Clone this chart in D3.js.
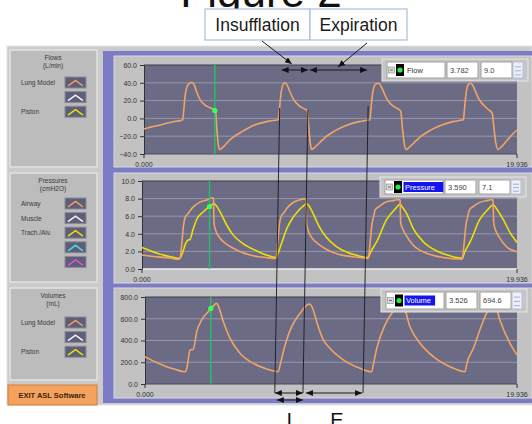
<!DOCTYPE html>
<html>
<head>
<meta charset="utf-8">
<script src="https://cdn.jsdelivr.net/npm/d3@7"></script>
<style>
body { margin: 0; background: #fff; }
svg { display: block; font-family: "Liberation Sans", Arial, sans-serif; }
</style>
</head>
<body>
<script>
// ---- data ----
var timeMax = 19.936;

// Flows (L/min), lung model
var flowT = [0, 0.4, 0.84, 1.2, 1.57, 2.01, 2.07, 2.12, 2.18, 2.26, 2.4, 2.55, 2.68, 2.81, 3.03, 3.26, 3.53, 3.78, 3.83, 3.88, 3.95, 4.03, 4.24, 4.5, 4.77, 5.31, 5.84, 6.56, 7.09,
  7.18, 7.23, 7.29, 7.36, 7.45, 7.54, 7.66, 7.8, 8.0, 8.25, 8.5, 8.69, 8.74, 8.8, 8.88, 8.96, 9.15, 9.4, 9.7, 10.2, 10.8, 11.5, 12.0,
  12.07, 12.12, 12.18, 12.26, 12.38, 12.53, 12.65, 12.8, 13.0, 13.25, 13.5, 13.68, 13.73, 13.8, 13.9, 14.0, 14.2, 14.45, 14.75, 15.25, 15.85, 16.5, 17.0,
  17.07, 17.12, 17.18, 17.25, 17.35, 17.45, 17.58, 17.72, 17.92, 18.15, 18.4, 18.55, 18.62, 18.7, 18.8, 18.92, 19.1, 19.35, 19.6, 19.936];
var flowV = [-12, -9.5, -7.6, -5.5, -3.8, -2, -1.5, 8, 22, 33, 39, 40.5, 38, 30, 20, 15, 12, 9, 7, -8, -26, -35, -32, -26, -21, -14, -8, -3.6, -1.8,
  -1.5, 8, 22, 33, 39, 40, 37, 30, 21, 15, 11.5, 9.5, 7, -8, -27, -35, -32, -27, -21, -14, -8, -3.6, -1.8,
  -1.5, 8, 22, 33, 38.5, 39.5, 37, 30, 21, 15, 11.5, 9, 7, -8, -27, -35, -32, -27, -21, -14, -8, -3.6, -1.8,
  -1.5, 8, 22, 33, 38.5, 39.5, 37, 30, 21, 15, 10, 7.5, 5, -10, -27, -35, -32, -26, -20, -13];

// Pressures (cmH2O): airway and trach./alv.
var airT = [0, 0.5, 1.0, 1.5, 1.93, 2.02, 2.1, 2.2, 2.3, 2.45, 2.55, 2.7, 3.08, 3.4, 3.76, 3.8, 3.83, 3.9, 4.15, 4.5, 4.85, 5.3, 5.74, 6.2, 6.63, 7.07,
  7.12, 7.2, 7.3, 7.4, 7.55, 7.7, 8.0, 8.3, 8.67, 8.72, 8.75, 8.83, 9.05, 9.4, 9.75, 10.2, 10.7, 11.2, 11.6, 12.0,
  12.03, 12.12, 12.22, 12.32, 12.39, 12.6, 13.0, 13.4, 13.68, 13.72, 13.75, 13.85, 13.98, 14.42, 15.13, 16.02, 17.0,
  17.03, 17.12, 17.22, 17.32, 17.4, 17.6, 18.0, 18.4, 18.62, 18.66, 18.7, 18.8, 19.0, 19.39, 19.936];
var airV = [1.6, 1.45, 1.35, 1.25, 1.1, 1.2, 2.5, 4.8, 5.9, 6.3, 6.6, 7.0, 7.6, 7.8, 8.1, 8.0, 5.2, 4.5, 3.5, 2.8, 2.35, 1.9, 1.6, 1.4, 1.3, 1.2,
  1.25, 2.8, 5.0, 6.0, 6.4, 6.9, 7.5, 7.8, 8.0, 7.9, 5.2, 4.4, 3.5, 2.8, 2.3, 1.85, 1.55, 1.4, 1.3, 1.2,
  1.2, 2.8, 5.0, 6.0, 6.7, 7.1, 7.65, 7.8, 7.9, 7.8, 5.3, 4.6, 4.05, 2.7, 1.8, 1.3, 1.1,
  1.15, 2.8, 5.0, 6.0, 6.7, 7.1, 7.6, 7.8, 7.9, 7.8, 5.2, 4.4, 3.6, 2.5, 1.95];
var trachT = [0, 0.4, 0.8, 1.2, 1.6, 1.93, 2.02, 2.15, 2.3, 2.37, 2.45, 2.55, 2.7, 2.9, 3.26, 3.61, 3.83, 3.95, 4.15, 4.5, 4.85, 5.39, 6.1, 6.6, 6.98,
  7.12, 7.25, 7.45, 7.7, 7.95, 8.3, 8.6, 8.75, 8.9, 9.1, 9.4, 9.8, 10.3, 10.9, 11.5,
  12.03, 12.15, 12.48, 13.0, 13.45, 13.72, 13.85, 14.07, 14.42, 14.95, 15.67, 16.3, 16.73,
  17.03, 17.15, 17.45, 17.95, 18.4, 18.68, 18.8, 19.21, 19.55, 19.936];
var trachV = [2.45, 2.1, 1.8, 1.55, 1.35, 1.2, 1.25, 1.8, 2.8, 3.1, 3.3, 3.35, 4.4, 5.6, 6.5, 7.15, 7.45, 7.2, 6.5, 5.0, 3.85, 2.85, 2.05, 1.6, 1.35,
  1.3, 1.9, 3.1, 4.6, 5.6, 6.6, 7.2, 7.45, 7.1, 6.3, 4.9, 3.6, 2.6, 1.9, 1.5,
  1.3, 1.9, 3.1, 5.6, 6.8, 7.35, 7.0, 6.3, 4.6, 3.1, 2.05, 1.55, 1.3,
  1.25, 1.9, 3.1, 5.6, 6.8, 7.3, 7.0, 5.6, 4.2, 3.0];

// Volumes (mL), lung model
var volT = [0, 0.4, 0.8, 1.16, 1.6, 2.14, 2.25, 2.41, 2.59, 2.77, 3.04, 3.39, 3.57, 3.84, 3.92, 4.2, 4.56, 5.09, 5.8, 6.52, 7.14,
  7.25, 7.41, 7.6, 7.86, 8.31, 8.8, 9.0, 9.2, 9.56, 9.91, 10.63, 11.52, 12.15,
  12.25, 12.42, 12.86, 13.22, 13.75, 13.85, 14.2, 14.74, 15.45, 16.34, 17.15,
  17.25, 17.6, 18.04, 18.3, 18.7, 18.8, 19.02, 19.56, 19.936];
var volV = [250, 215, 185, 159, 135, 113, 150, 313, 320, 481, 589, 665, 696, 742, 720, 573, 420, 282, 190, 138, 113,
  180, 297, 410, 527, 650, 735, 690, 573, 405, 328, 221, 144, 113,
  190, 328, 542, 650, 740, 720, 527, 374, 251, 159, 113,
  190, 328, 542, 650, 735, 710, 589, 374, 267];

var flowTicks = [-40, -20, 0, 20, 40, 60];
var pressTicks = [0, 2, 4, 6, 8, 10];
var volTicks = [0, 200, 400, 600, 800];
var xTickLabels = ["0.000", "19.936"];

var cursorX = ["3.782", "3.590", "3.526"];
var cursorY = ["9.0", "7.1", "694.6"];

var orange = "#f2a466", yellow = "#ece100";

// ---- page ----
var svg = d3.select("body").append("svg")
    .attr("width", 532)
    .attr("height", 424);

svg.append("defs").append("marker")
    .attr("id", "ah")
    .attr("markerUnits", "userSpaceOnUse")
    .attr("markerWidth", 7).attr("markerHeight", 6)
    .attr("refX", 7).attr("refY", 3)
    .attr("orient", "auto-start-reverse")
    .append("path").attr("d", "M0,0 L7,3 L0,6 Z").attr("fill", "#111");

// outer frame + left side
svg.append("rect").attr("x", 7).attr("y", 46).attr("width", 525).attr("height", 359)
    .attr("fill", "#cbcbcb").attr("stroke", "#e4e4e4");
svg.append("rect").attr("x", 103).attr("y", 51).attr("width", 429).attr("height", 352)
    .attr("fill", "#7c7cc6");

var legends = [
    {y: 50, h: 117, title: ["Flows", "(L/min)"], items: [["Lung Model", orange], ["", "#f4f4f4"], ["Piston", yellow]], sy: 77},
    {y: 173, h: 109, title: ["Pressures", "(cmH2O)"], items: [["Airway", orange], ["Muscle", "#f4f4f4"], ["Trach./Alv.", yellow], ["", "#3fe0e0"], ["", "#e050e0"]], sy: 198},
    {y: 288, h: 92, title: ["Volumes", "(mL)"], items: [["Lung Model", orange], ["", "#f4f4f4"], ["Piston", yellow]], sy: 317}
];
legends.forEach(function(L) {
    var g = svg.append("g");
    g.append("rect").attr("x", 10).attr("y", L.y).attr("width", 87).attr("height", L.h)
        .attr("fill", "#bcbcbc").attr("stroke", "#e2e2e2").attr("stroke-width", 1.5);
    g.selectAll("text.t").data(L.title).enter().append("text")
        .attr("x", 53).attr("y", function(d, i) { return L.y + 10 + i * 8; })
        .attr("text-anchor", "middle").attr("font-size", 6.5).attr("fill", "#3a3a3a")
        .text(function(d) { return d; });
    var it = g.selectAll("g.it").data(L.items).enter().append("g")
        .attr("transform", function(d, i) { return "translate(0," + (L.sy + i * 14.6) + ")"; });
    it.append("text").attr("x", 21).attr("y", 8).attr("font-size", 6.5).attr("fill", "#3a3a3a")
        .text(function(d) { return d[0]; });
    it.append("rect").attr("x", 65).attr("y", 0).attr("width", 21).attr("height", 11)
        .attr("fill", "#5e5e78").attr("stroke", "#8a8a9a");
    it.append("polyline").attr("points", "68,9 75.5,3.5 83,9")
        .attr("fill", "none").attr("stroke", function(d) { return d[1]; }).attr("stroke-width", 1.5);
});

svg.append("rect").attr("x", 8).attr("y", 385).attr("width", 89).attr("height", 20)
    .attr("fill", "#f5a25c").attr("stroke", "#d27c36");
svg.append("text").attr("x", 52).attr("y", 398).attr("text-anchor", "middle")
    .attr("font-size", 7.5).attr("font-weight", "bold").attr("fill", "#3b2412")
    .text("EXIT ASL Software");

// ---- the three graphs ----
var charts = [
    {py: 56, ph: 111, left: 144, top: 65, bottom: 154, domain: [-40, 60], ticks: flowTicks, name: "Flow", hl: false,
     box: [382, 59, 22], series: [[flowT, flowV, orange]], cur: 0},
    {py: 173, ph: 110, left: 142, top: 181, bottom: 269, domain: [0, 10], ticks: pressTicks, name: "Pressure", hl: true,
     box: [380, 177, 20], series: [[airT, airV, orange], [trachT, trachV, yellow]], cur: 1},
    {py: 288, ph: 110, left: 145, top: 297, bottom: 384, domain: [0, 800], ticks: volTicks, name: "Volume", hl: true,
     box: [381, 289, 23], series: [[volT, volV, orange]], cur: 0}
];
var plotRight = 517;
var scalesX = [];

charts.forEach(function(c, ci) {
    var x = d3.scaleLinear().domain([0, timeMax]).range([c.left, plotRight]);
    var y = d3.scaleLinear().domain(c.domain).range([c.bottom, c.top]);
    scalesX.push(x);
    var g = svg.append("g");

    g.append("rect").attr("x", 114).attr("y", c.py).attr("width", 418).attr("height", c.ph)
        .attr("fill", "#c2c2c2").attr("stroke", "#dadada");
    g.append("rect").attr("x", c.left).attr("y", c.top).attr("width", plotRight - c.left).attr("height", c.bottom - c.top)
        .attr("fill", "#6b6b85");

    // grid
    g.selectAll("line.grid").data(c.ticks.slice(1, -1)).enter().append("line")
        .attr("x1", c.left).attr("x2", plotRight)
        .attr("y1", function(d) { return y(d); }).attr("y2", function(d) { return y(d); })
        .attr("stroke", "#9c9cae").attr("stroke-width", 0.9);
    g.append("line").attr("x1", c.left).attr("x2", plotRight).attr("y1", c.top).attr("y2", c.top)
        .attr("stroke", "#3c3c48").attr("stroke-width", 1);
    g.append("line").attr("x1", c.left).attr("x2", plotRight).attr("y1", c.bottom).attr("y2", c.bottom)
        .attr("stroke", ci == 1 ? "#f0f0f0" : "#4a4a58").attr("stroke-width", ci == 1 ? 1.5 : 1);

    var ax = g.append("g").attr("transform", "translate(" + c.left + ",0)")
        .call(d3.axisLeft(y).tickValues(c.ticks).tickFormat(d3.format(".1f")).tickSize(4).tickSizeOuter(0).tickPadding(3));
    ax.selectAll("text").attr("font-size", 7).attr("fill", "#333").attr("font-family", "Liberation Sans, Arial, sans-serif");
    ax.selectAll("line").attr("stroke", "#333");
    ax.select(".domain").attr("stroke", "#333");

    // x end labels
    g.selectAll("text.xl").data([0, timeMax]).enter().append("text")
        .attr("x", function(d) { return x(d); }).attr("y", c.bottom + 12.5)
        .attr("text-anchor", "middle").attr("font-size", 7).attr("fill", "#333")
        .text(function(d, i) { return xTickLabels[i]; });
    g.selectAll("line.xt").data([0, timeMax]).enter().append("line")
        .attr("x1", function(d) { return x(d); }).attr("x2", function(d) { return x(d); })
        .attr("y1", c.bottom).attr("y2", c.bottom + 4).attr("stroke", "#333");

    // traces
    var line = d3.line().curve(d3.curveMonotoneX)
        .x(function(d) { return x(d[0]); }).y(function(d) { return y(d[1]); });
    c.series.slice().reverse().forEach(function(s) {
        g.append("path").datum(d3.zip(s[0], s[1]))
            .attr("d", line).attr("fill", "none").attr("stroke", s[2]).attr("stroke-width", 1.6);
    });

    // cursor
    var cx = +cursorX[ci], cy = +cursorY[ci];
    g.append("line").attr("x1", x(cx)).attr("x2", x(cx)).attr("y1", c.top).attr("y2", c.bottom)
        .attr("stroke", "#22c46a").attr("stroke-width", 1.4);
    g.append("circle").attr("cx", x(cx)).attr("cy", y(cy)).attr("r", 2.6).attr("fill", "#3cff5a");

    // cursor readout
    var bx = c.box[0], by = c.box[1], bh = c.box[2];
    var r = svg.append("g").attr("transform", "translate(" + bx + "," + by + ")");
    r.append("rect").attr("width", 146).attr("height", bh).attr("fill", "#c6c6c6").attr("stroke", "#e6e6e6");
    r.append("rect").attr("x", 5).attr("y", 3).attr("width", 58).attr("height", bh - 6).attr("fill", "#fff").attr("stroke", "#a0a0a0");
    r.append("rect").attr("x", 6.5).attr("y", bh / 2 - 3).attr("width", 6).attr("height", 6).attr("fill", "#d8d8d8").attr("stroke", "#888").attr("stroke-width", 0.6);
    r.append("line").attr("x1", 8).attr("x2", 11).attr("y1", bh / 2).attr("y2", bh / 2).attr("stroke", "#444").attr("stroke-width", 0.7);
    r.append("rect").attr("x", 14).attr("y", bh / 2 - 6).attr("width", 8).attr("height", 12).attr("fill", "#000");
    r.append("circle").attr("cx", 18).attr("cy", bh / 2).attr("r", 2.6).attr("fill", "#22ee44");
    if (c.hl) {
        r.append("rect").attr("x", 23.5).attr("y", bh / 2 - 5).attr("width", c.name.length * 4.6 + 3).attr("height", 10).attr("fill", "#1414f0");
    }
    r.append("text").attr("x", 25).attr("y", bh / 2 + 2.8).attr("font-size", 7.5)
        .attr("fill", c.hl ? "#fff" : "#333").text(c.name);
    r.append("rect").attr("x", 65).attr("y", 3).attr("width", 31).attr("height", bh - 6).attr("fill", "#fff").attr("stroke", "#a0a0a0");
    r.append("text").attr("x", 68).attr("y", bh / 2 + 2.8).attr("font-size", 7.5).attr("fill", "#444").text(cursorX[ci]);
    r.append("rect").attr("x", 99).attr("y", 3).attr("width", 31).attr("height", bh - 6).attr("fill", "#fff").attr("stroke", "#a0a0a0");
    r.append("text").attr("x", 102).attr("y", bh / 2 + 2.8).attr("font-size", 7.5).attr("fill", "#444").text(cursorY[ci]);
    r.append("rect").attr("x", 131).attr("y", 3).attr("width", 10).attr("height", bh - 6).attr("fill", "#eef0f8").attr("stroke", "#b8bcd0");
    r.selectAll("line.w").data([0.3, 0.55, 0.8]).enter().append("line")
        .attr("x1", 133).attr("x2", 139)
        .attr("y1", function(d) { return 3 + d * (bh - 6); }).attr("y2", function(d) { return 3 + d * (bh - 6); })
        .attr("stroke", "#8090d0").attr("stroke-width", 0.7);
});

// ---- title and insufflation / expiration marks ----
svg.append("text").attr("x", 261).attr("y", 7).attr("text-anchor", "middle")
    .attr("font-size", 44).attr("fill", "#111").text("Figure 2");

var phaseNames = ["Insufflation", "Expiration"];
var phaseBoxes = [[205, 105], [310, 97]];
phaseBoxes.forEach(function(b, i) {
    svg.append("rect").attr("x", b[0]).attr("y", 9).attr("width", b[1]).attr("height", 31)
        .attr("fill", "#fff").attr("stroke", "#a8bedb").attr("stroke-width", 1.2);
    svg.append("text").attr("x", b[0] + b[1] / 2).attr("y", 30.5).attr("text-anchor", "middle")
        .attr("font-size", 17.5).attr("fill", "#1a1a1a").text(phaseNames[i]);
});

// start of insufflation, start of expiration, next insufflation (s)
var phaseT = [7.25, 8.76, 11.98];
var xa = scalesX[0], xb = scalesX[2];
var topY = [108, 110, 106];
function seg(x1, y1, x2, y2, both) {
    var l = svg.append("line").attr("x1", x1).attr("y1", y1).attr("x2", x2).attr("y2", y2)
        .attr("stroke", "#1a1a1a").attr("stroke-width", 1).attr("marker-end", "url(#ah)");
    if (both) l.attr("marker-start", "url(#ah)");
}
phaseT.forEach(function(t, i) {
    svg.append("line").attr("x1", xa(t)).attr("y1", topY[i]).attr("x2", xb(t) - 5.5).attr("y2", 393)
        .attr("stroke", "#1a1a1a").attr("stroke-width", 0.9);
});
seg(xa(phaseT[0]) + 2, 70, xa(phaseT[1]), 70, true);
seg(xa(phaseT[1]) + 2, 70, xa(phaseT[2]) - 1, 70, true);
seg(262, 41, (xa(phaseT[0]) + xa(phaseT[1])) / 2 - 2, 64, false);
seg(367, 43, (xa(phaseT[1]) + xa(phaseT[2])) / 2, 67, false);
seg(xb(phaseT[0]) - 5.5, 393, xb(phaseT[1]) - 5.5, 393, true);
seg(xb(phaseT[1]) - 2.5, 393, xb(phaseT[2]) - 6.5, 393, true);
seg(xb(phaseT[0]) - 3.5, 400, xb(phaseT[1]) - 5.5, 400, true);

svg.append("text").attr("x", (xb(phaseT[0]) + xb(phaseT[1])) / 2 - 5).attr("y", 427)
    .attr("text-anchor", "middle").attr("font-size", 20).attr("fill", "#111").text("I");
svg.append("text").attr("x", 337).attr("y", 427)
    .attr("text-anchor", "middle").attr("font-size", 20).attr("fill", "#111").text("E");
</script>
</body>
</html>
